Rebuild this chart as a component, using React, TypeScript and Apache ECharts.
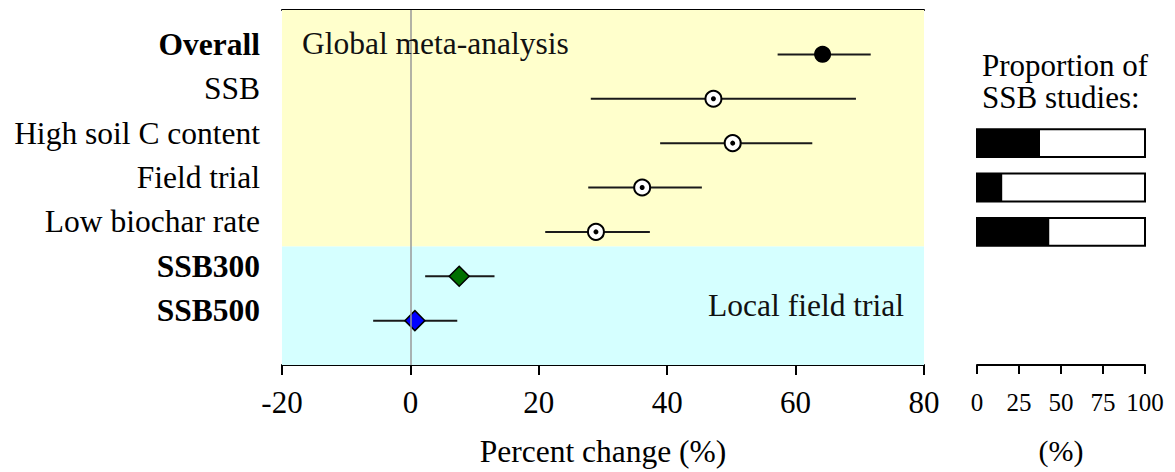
import React, { useEffect, useRef } from "react";
import * as echarts from "echarts";

const categories = ["Overall", "SSB", "High soil C content", "Field trial", "Low biochar rate", "SSB300", "SSB500"];
const boldCategories = ["Overall", "SSB300", "SSB500"];
const meanChange = [64.2, 47.2, 50.2, 36.1, 28.9, 7.6, 0.7];
const lowerCI = [57.2, 28.1, 38.9, 27.7, 21.0, 2.3, -5.8];
const upperCI = [71.7, 69.4, 62.6, 45.4, 37.3, 13.1, 7.3];
const proportionCategories = ["High soil C content", "Field trial", "Low biochar rate"];
const ssbProportion = [37.5, 15, 43];
const xTicks = { min: -20, max: 80, interval: 20 };
const propTicks = { min: 0, max: 100, interval: 25 };
const globalLocalBoundary = 5.33;

const FONT = "'Liberation Serif', 'Times New Roman', serif";

export default function App() {
  const ref = useRef<HTMLDivElement>(null);
  useEffect(() => {
    if (!ref.current) return;
    const chart = echarts.init(ref.current, null, { renderer: "svg" });
    const rowOf = (name: string) => categories.indexOf(name) + 1;
    const pts = categories.map((c, i) => [meanChange[i], i + 1]);
    const errData = categories.map((c, i) => [lowerCI[i], upperCI[i], i + 1]);
    const propData = proportionCategories.map((c, i) => [ssbProportion[i], rowOf(c)]);

    const option: any = {
      animation: false,
      backgroundColor: "#ffffff",
      textStyle: { fontFamily: FONT },
      title: {
        text: "Proportion of\nSSB studies:",
        left: 977,
        top: 44,
        textStyle: { fontFamily: FONT, fontSize: 31, fontWeight: "normal", color: "#000", lineHeight: 32 },
      },
      graphic: [
        {
          type: "text",
          left: 302,
          top: 27,
          z: 100,
          style: { text: "Global meta-analysis", font: `31.5px ${FONT}`, fill: "#111" },
        },
        {
          type: "text",
          right: 1175 - 904,
          top: 289,
          z: 100,
          style: { text: "Local field trial", font: `31.5px ${FONT}`, fill: "#111" },
        },
      ],
      grid: [
        { left: 282, top: 10, width: 642, height: 355 },
        { left: 977, top: 10, width: 168, height: 355 },
      ],
      xAxis: [
        {
          gridIndex: 0,
          type: "value",
          min: xTicks.min,
          max: xTicks.max,
          interval: xTicks.interval,
          position: "bottom",
          axisLine: { show: true, onZero: false, lineStyle: { color: "#000", width: 2 } },
          axisTick: { show: true, length: 10, lineStyle: { color: "#000", width: 2 } },
          axisLabel: { fontSize: 31, color: "#000", fontFamily: FONT, margin: 22 },
          splitLine: { show: false },
          name: "Percent change (%)",
          nameLocation: "middle",
          nameGap: 70,
          nameTextStyle: { fontSize: 31.5, color: "#000", fontFamily: FONT },
        },
        {
          gridIndex: 0,
          type: "value",
          min: xTicks.min,
          max: xTicks.max,
          interval: xTicks.interval,
          position: "top",
          axisLine: { show: true, onZero: false, lineStyle: { color: "#000", width: 2 } },
          axisTick: { show: false },
          axisLabel: { show: false },
          splitLine: { show: false },
        },
        {
          gridIndex: 1,
          type: "value",
          min: propTicks.min,
          max: propTicks.max,
          interval: propTicks.interval,
          position: "bottom",
          axisLine: { show: true, onZero: false, lineStyle: { color: "#000", width: 2 } },
          axisTick: { show: true, length: 9, lineStyle: { color: "#000", width: 2 } },
          axisLabel: { fontSize: 25, color: "#000", fontFamily: FONT, margin: 25 },
          splitLine: { show: false },
          name: "(%)",
          nameLocation: "middle",
          nameGap: 70,
          nameTextStyle: { fontSize: 30, color: "#000", fontFamily: FONT },
        },
      ],
      yAxis: [
        {
          gridIndex: 0,
          type: "value",
          min: 0,
          max: categories.length + 1,
          interval: 1,
          inverse: true,
          axisLine: { show: false },
          axisTick: { show: false },
          splitLine: { show: false },
          axisLabel: {
            margin: 22,
            fontSize: 31.5,
            fontFamily: FONT,
            color: "#000",
            formatter: (v: number) => {
              const name = categories[v - 1];
              if (!name) return "";
              return boldCategories.includes(name) ? `{b|${name}}` : `{n|${name}}`;
            },
            rich: {
              b: { fontSize: 31.5, fontWeight: "bold", fontFamily: FONT, color: "#000", padding: [0, 0, 20, 0] },
              n: { fontSize: 31.5, fontFamily: FONT, color: "#000", padding: [0, 0, 20, 0] },
            },
          },
        },
        {
          gridIndex: 1,
          type: "value",
          min: 0,
          max: categories.length + 1,
          interval: 1,
          inverse: true,
          show: false,
        },
      ],
      series: [
        {
          type: "line",
          xAxisIndex: 0,
          yAxisIndex: 0,
          data: [],
          z: 0,
          silent: true,
          markArea: {
            silent: true,
            data: [
              [{ yAxis: 0, itemStyle: { color: "#FFFFCC" } }, { yAxis: globalLocalBoundary }],
              [{ yAxis: globalLocalBoundary, itemStyle: { color: "#D5FFFF" } }, { yAxis: categories.length + 1 }],
            ],
          },
        },
        {
          type: "custom",
          xAxisIndex: 0,
          yAxisIndex: 0,
          z: 1,
          data: errData,
          encode: { x: [0, 1], y: 2 },
          renderItem: (params: any, api: any) => {
            const y = api.value(2);
            const p1 = api.coord([api.value(0), y]);
            const p2 = api.coord([api.value(1), y]);
            return {
              type: "line",
              shape: { x1: p1[0], y1: p1[1], x2: p2[0], y2: p2[1] },
              style: { stroke: "#1a1a1a", lineWidth: 2 },
            };
          },
          markLine: {
            silent: true,
            symbol: "none",
            label: { show: false },
            lineStyle: { color: "#999", width: 1.5, type: "solid" },
            data: [{ xAxis: 0 }],
          },
        },
        {
          type: "scatter",
          xAxisIndex: 0,
          yAxisIndex: 0,
          z: 3,
          symbol: "circle",
          symbolSize: 17,
          itemStyle: { color: "#000", opacity: 1 },
          data: pts.slice(0, 1),
        },
        {
          type: "scatter",
          xAxisIndex: 0,
          yAxisIndex: 0,
          z: 3,
          symbol: "circle",
          symbolSize: 16,
          itemStyle: { color: "#fff", borderColor: "#000", borderWidth: 2, opacity: 1 },
          data: pts.slice(1, 5),
        },
        {
          type: "scatter",
          xAxisIndex: 0,
          yAxisIndex: 0,
          z: 4,
          symbol: "circle",
          symbolSize: 5,
          itemStyle: { color: "#000", opacity: 1 },
          data: pts.slice(1, 5),
        },
        {
          type: "scatter",
          xAxisIndex: 0,
          yAxisIndex: 0,
          z: 3,
          symbol: "diamond",
          symbolSize: [20, 20],
          itemStyle: { color: "#007000", borderColor: "#000", borderWidth: 1.5, opacity: 1 },
          data: pts.slice(5, 6),
        },
        {
          type: "scatter",
          xAxisIndex: 0,
          yAxisIndex: 0,
          z: 3,
          symbol: "diamond",
          symbolSize: [20, 20],
          itemStyle: { color: "#0000FF", borderColor: "#000", borderWidth: 1.5, opacity: 1 },
          data: pts.slice(6, 7),
        },
        {
          type: "custom",
          xAxisIndex: 2,
          yAxisIndex: 1,
          data: propData,
          encode: { x: 0, y: 1 },
          renderItem: (params: any, api: any) => {
            const y = api.value(1);
            const h = api.size([0, 1])[1] * 0.63;
            const a = api.coord([propTicks.min, y]);
            const p = api.coord([api.value(0), y]);
            const b = api.coord([propTicks.max, y]);
            return {
              type: "group",
              children: [
                { type: "rect", shape: { x: a[0], y: a[1] - h / 2, width: b[0] - a[0], height: h }, style: { fill: "#fff" } },
                { type: "rect", shape: { x: a[0], y: a[1] - h / 2, width: p[0] - a[0], height: h }, style: { fill: "#000" } },
                {
                  type: "rect",
                  shape: { x: a[0], y: a[1] - h / 2, width: b[0] - a[0], height: h },
                  style: { fill: "none", stroke: "#000", lineWidth: 2 },
                },
              ],
            };
          },
        },
      ],
    };
    chart.setOption(option);
    return () => chart.dispose();
  }, []);
  return <div ref={ref} style={{ position: "absolute", left: 0, top: 0, width: 1175, height: 472 }} />;
}
